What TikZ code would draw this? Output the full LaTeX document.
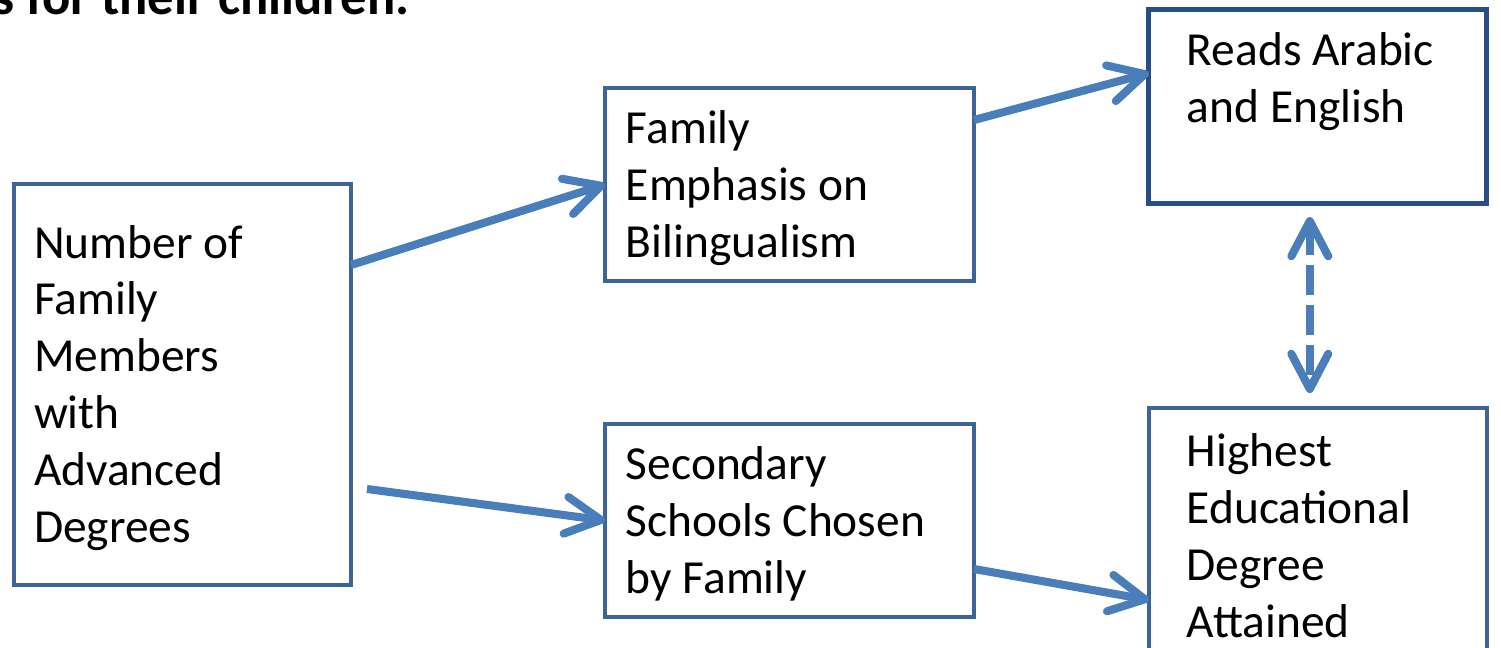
\documentclass[tikz,border=0pt]{standalone}
\usepackage{fontspec}
\setmainfont{Carlito}
\usetikzlibrary{arrows.meta,positioning}

\definecolor{boxblue}{HTML}{3C6496}
\definecolor{darkbox}{HTML}{284F85}
\definecolor{arrowblue}{HTML}{4A7EBB}

\begin{document}
\begin{tikzpicture}[x=0.02cm,y=-0.02cm,
    >={Straight Barb[length=20pt,width=21pt,round]},
    every node/.style={font=\fontsize{27}{32.4}\selectfont},
    box/.style={draw=boxblue,line width=2.2pt,align=flush left,inner ysep=0pt,outer sep=0pt},
    midbox/.style={box,execute at begin node=\strut},
    link/.style={color=arrowblue,line width=4.6pt}]

                \useasboundingbox (0,0) rectangle (1501,647);

                \node[font=\fontsize{30}{36}\selectfont\bfseries,anchor=base east,inner sep=0pt] (title) at (410,14) {s for their children.};

                \node[midbox,minimum width=6.74cm,minimum height=8.02cm,text width=5.94cm,inner xsep=0.4cm] (num) at (182.5,384.5) {Number of\\Family\\Members\\with\\Advanced\\Degrees};

                \node[midbox,anchor=north west,minimum width=7.38cm,minimum height=3.86cm,text width=6.54cm,inner xsep=0.42cm] (emph) at ([xshift=5.08cm,yshift=1.92cm]num.north east) {Family\\Emphasis on\\Bilingualism};

                \node[midbox,minimum width=7.38cm,minimum height=3.86cm,text width=6.54cm,inner xsep=0.42cm] (sch) [below=2.86cm of emph] {Secondary\\Schools Chosen\\by Family};

                \node[box,draw=darkbox,line width=2.8pt,minimum width=6.76cm,minimum height=3.88cm,text width=5.24cm,inner xsep=0.76cm] (reads) [right=3.5cm of emph.north east,anchor=north west,yshift=1.58cm] {Reads Arabic\\and English\\\rule{0pt}{0pt}};

                \node[box,minimum width=6.76cm,minimum height=6.24cm,text width=5.24cm,inner xsep=0.76cm] (deg) [below=4.1cm of reads] {Highest\\Educational\\Degree\\Attained\\\rule{0pt}{0pt}};

                \path[link,->] ([yshift=-1.62cm]num.north east) edge (emph.west)

                          ([xshift=0.32cm,yshift=1.92cm]num.south east) edge (sch.west)

                          ([yshift=1.29cm]emph.east) edge ([yshift=0.66cm]reads.west)

                          ([yshift=-0.97cm]sch.east) edge ([yshift=-3.84cm]deg.north west);

                \path[link,<->,dash pattern=on 17pt off 5.7pt,shorten <=0.28cm,shorten >=0.3cm] ([xshift=-0.16cm]reads.south) edge ([xshift=-0.16cm]deg.north);

            \end{tikzpicture}
\end{document}
